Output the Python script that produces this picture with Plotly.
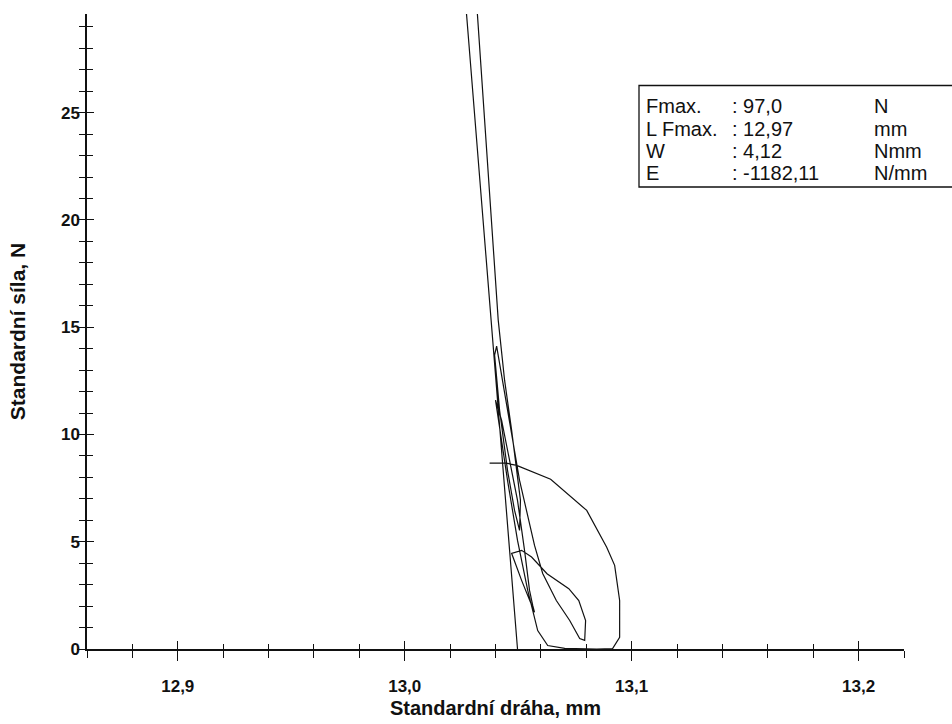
import plotly.graph_objects as go

# Measured force-displacement curve (displacement in mm, force in N)
drah_mm = [
    13.0374, 13.0449, 13.0493, 13.0643, 13.0802, 13.0890, 13.0925, 13.0947,
    13.0947, 13.0916, 13.0846, 13.0705, 13.0630, 13.0586, 13.0542, 13.0497,
    13.0453, 13.0418, 13.0400, 13.0427, 13.0462, 13.0497, 13.0528, 13.0550,
    13.0564, 13.0572, 13.0515, 13.0471, 13.0515, 13.0559, 13.0627, 13.0723,
    13.0767, 13.0797, 13.0793, 13.0771, 13.0727, 13.0668, 13.0608, 13.0572,
    13.0506, 13.0453, 13.0418, 13.0405, 13.0396, 13.0418, 13.0453, 13.0484,
    13.0506, 13.0510, 13.0471, 13.0440, 13.0412, 13.0321, 12.9890, 12.9700,
    13.0273, 13.0497,
]
sila_N = [
    8.66, 8.66, 8.56, 7.91, 6.46, 4.74, 3.90, 2.26,
    0.54, 0.02, 0.00, 0.03, 0.16, 0.86, 2.73, 5.06,
    7.86, 10.20, 11.60, 10.66, 8.80, 6.93, 4.60, 2.73,
    2.03, 1.71, 3.20, 4.46, 4.60, 4.29, 3.51, 2.81,
    2.26, 1.33, 0.40, 0.49, 1.33, 2.26, 3.52, 4.83,
    7.86, 11.13, 13.46, 14.12, 13.70, 11.13, 8.33, 6.46,
    5.53, 6.93, 10.20, 12.53, 15.33, 29.51, 96.50, 97.00,
    29.51, 0.00,
]

# Axis settings
x_range = [12.86, 13.22]
y_range = [0, 29.6]
x_tick_step, x_minor_step = 0.1, 0.02
y_tick_step, y_minor_step = 5, 1

# Result table
row_labels = ["Fmax.", "L Fmax.", "W", "E"]
row_values = [": 97,0", ": 12,97", ": 4,12", ": -1182,11"]
row_units = ["N", "mm", "Nmm", "N/mm"]

W, H = 952, 724
ML, MR, MT, MB = 87, 48, 14, 75
PW, PH = W - ML - MR, H - MT - MB


def px_x(px):
    return (px - ML) / PW


def px_y(py):
    return (H - MB - py) / PH


FONT = "Liberation Sans, Arial, sans-serif"
INK = "#111111"

fig = go.Figure()
fig.add_trace(go.Scatter(
    x=drah_mm, y=sila_N, mode="lines",
    line=dict(color=INK, width=1.2),
    showlegend=False, hoverinfo="skip",
))
# empty trace carrying the overlay axes (inner half of the crossing ticks)
fig.add_trace(go.Scatter(x=[], y=[], xaxis="x2", yaxis="y2", showlegend=False))

tick_common = dict(tickcolor=INK, tickwidth=1.2, showgrid=False,
                   zeroline=False, automargin=False)

fig.update_layout(
    width=W, height=H,
    margin=dict(l=ML, r=MR, t=MT, b=MB, pad=0),
    paper_bgcolor="white", plot_bgcolor="white",
    separators=", ",
    font=dict(family=FONT, color=INK),
    xaxis=dict(
        range=x_range, tick0=13.0, dtick=x_tick_step, tickformat=".1f",
        showline=True, linecolor=INK, linewidth=1.5,
        ticks="outside", ticklen=10, ticklabelstandoff=11,
        tickfont=dict(size=17, family=FONT, color=INK, weight="bold"),
        minor=dict(dtick=x_minor_step, ticks="outside", ticklen=7,
                   tickcolor=INK, tickwidth=1.2, showgrid=False),
        title=dict(text="Standardní dráha, mm", standoff=6,
                   font=dict(size=20, family=FONT, color=INK, weight="bold")),
        **tick_common,
    ),
    yaxis=dict(
        range=y_range, tick0=0, dtick=y_tick_step, tickformat="d",
        showline=True, linecolor=INK, linewidth=1.5,
        ticks="outside", ticklen=8, ticklabelstandoff=-6,
        tickfont=dict(size=17, family=FONT, color=INK, weight="bold"),
        minor=dict(dtick=y_minor_step, ticks="outside", ticklen=6,
                   tickcolor=INK, tickwidth=1.2, showgrid=False),
        title=dict(text="Standardní síla, N", standoff=30,
                   font=dict(size=21, family=FONT, color=INK, weight="bold")),
        **tick_common,
    ),
    xaxis2=dict(
        overlaying="x", anchor="y2", side="bottom", range=x_range,
        tick0=13.0, dtick=x_tick_step, showticklabels=False, showline=False,
        ticks="inside", ticklen=8,
        minor=dict(dtick=x_minor_step, ticks="inside", ticklen=5,
                   tickcolor=INK, tickwidth=1.2, showgrid=False),
        **tick_common,
    ),
    yaxis2=dict(
        overlaying="y", anchor="x2", side="left", range=y_range,
        tick0=0, dtick=y_tick_step, showticklabels=False, showline=False,
        ticks="inside", ticklen=7,
        minor=dict(dtick=y_minor_step, ticks="inside", ticklen=6,
                   tickcolor=INK, tickwidth=1.2, showgrid=False),
        **tick_common,
    ),
)

# Result table frame
fig.add_shape(type="rect", xref="paper", yref="paper",
              x0=px_x(639), x1=px_x(962), y0=px_y(187), y1=px_y(85.5),
              line=dict(color=INK, width=1.3), fillcolor="white", layer="above")

col_px = [645, 731, 873]
row_py = [106, 128.5, 151, 173.5]
for r in range(len(row_labels)):
    for c, txt in enumerate([row_labels[r], row_values[r], row_units[r]]):
        fig.add_annotation(
            x=px_x(col_px[c]), y=px_y(row_py[r]), xref="paper", yref="paper",
            text=txt, showarrow=False, xanchor="left", yanchor="middle",
            borderpad=0, font=dict(size=20, family=FONT, color=INK),
        )

fig.write_html("out.html")
